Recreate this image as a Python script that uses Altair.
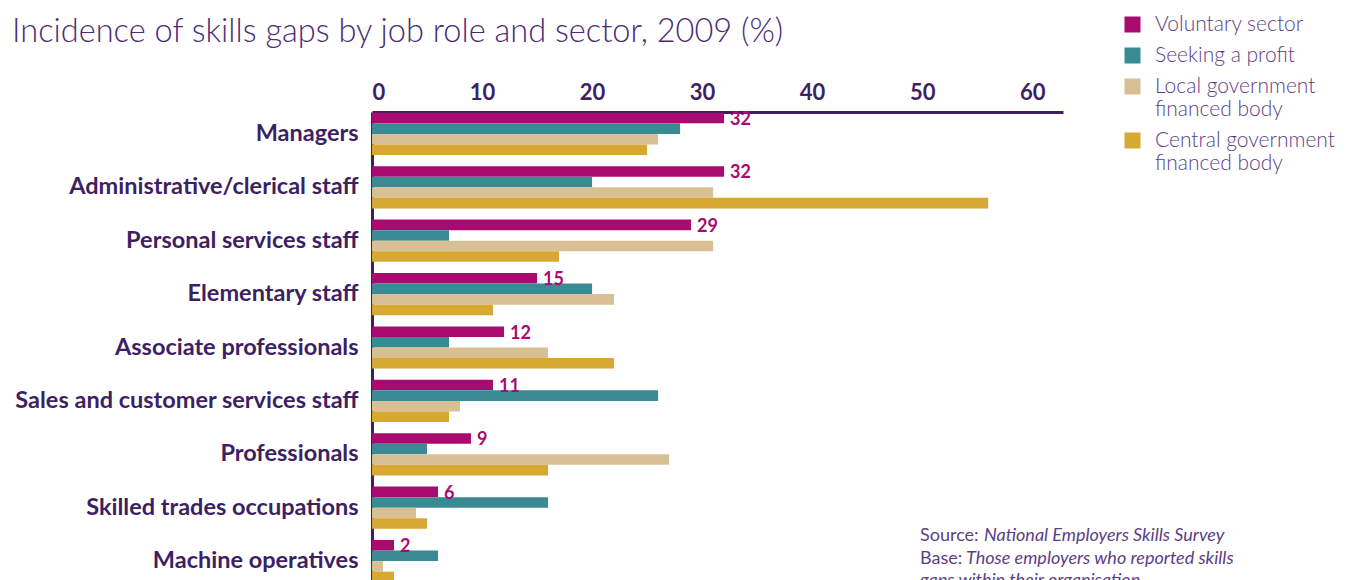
import altair as alt
import pandas as pd

categories = [
    "Managers",
    "Administrative/clerical staff",
    "Personal services staff",
    "Elementary staff",
    "Associate professionals",
    "Sales and customer services staff",
    "Professionals",
    "Skilled trades occupations",
    "Machine operatives",
]
sectors = [
    "Voluntary sector",
    "Seeking a profit",
    "Local government financed body",
    "Central government financed body",
]
voluntary = [32, 32, 29, 15, 12, 11, 9, 6, 2]
profit = [28, 20, 7, 20, 7, 26, 5, 16, 6]
local_gov = [26, 31, 31, 22, 16, 8, 27, 4, 1]
central_gov = [25, 56, 17, 11, 22, 7, 16, 5, 2]
colors = ["#a80b6f", "#3a8a94", "#d8c094", "#d7a832"]
x_ticks = [0, 10, 20, 30, 40, 50, 60]

title_text = "Incidence of skills gaps by job role and sector, 2009 (%)"
note_source_label = "Source:"
note_source = "National Employers Skills Survey"
note_base_label = "Base:"
note_base_1 = "Those employers who reported skills"
note_base_2 = "gaps within their organisation"

rows = []
for series_name, vals in zip(sectors, [voluntary, profit, local_gov, central_gov]):
    for role, v in zip(categories, vals):
        rows.append({"role": role, "sector": series_name, "value": v})
df = pd.DataFrame(rows)
one = pd.DataFrame({"k": [0]})

DARK = "#3d1f63"
TEXT = "#5b3f86"
FONT = "Lato"

y_enc = alt.Y(
    "role:N",
    sort=categories,
    scale=alt.Scale(range=[0, 471], paddingInner=0.21, paddingOuter=0.015),
    axis=alt.Axis(
        title=None, ticks=False, tickSize=0, labelFont=FONT, labelFontSize=23.5,
        labelFontWeight="bold", labelColor=DARK, labelPadding=14, labelLimit=500,
        domainColor=DARK, domainWidth=3,
    ),
)
yoff_enc = alt.YOffset("sector:N", sort=sectors, scale=alt.Scale(domain=sectors))
x_enc = alt.X(
    "value:Q",
    scale=alt.Scale(domain=[0, 62.8], nice=False),
    axis=alt.Axis(
        orient="top", title=None, values=x_ticks, ticks=False, tickSize=0, grid=False,
        labelFont=FONT, labelFontSize=22, labelFontWeight="bold", labelColor=DARK,
        labelPadding=8, domainColor=DARK, domainWidth=3,
    ),
)

legend_expr = (
    "datum.label == 'Local government financed body' ? ['Local government', 'financed body'] : "
    "datum.label == 'Central government financed body' ? ['Central government', 'financed body'] : datum.label"
)

bars = alt.Chart(df).mark_bar().encode(
    y=y_enc,
    yOffset=yoff_enc,
    x=x_enc,
    color=alt.Color(
        "sector:N",
        sort=sectors,
        scale=alt.Scale(domain=sectors, range=colors),
        legend=alt.Legend(
            title=None, orient="none", legendX=750, legendY=-98,
            symbolType="square", symbolSize=256, symbolStrokeWidth=0,
            labelFont=FONT, labelFontSize=21, labelFontWeight=300, labelColor=TEXT,
            labelLimit=400, labelExpr=legend_expr, rowPadding=9, labelOffset=12,
        ),
    ),
)

labels = alt.Chart(df).transform_filter(
    alt.datum.sector == "Voluntary sector"
).mark_text(
    align="left", baseline="middle", dx=6, dy=2, font=FONT, fontSize=18,
    fontWeight="bold", color="#a80b6f",
).encode(y=alt.Y("role:N", sort=categories), yOffset=yoff_enc, x="value:Q", text="value:Q")

title = alt.Chart(one).mark_text(
    text=title_text, font=FONT, fontSize=32.6, fontWeight=300, color="#4a2c74",
    align="left", baseline="alphabetic",
).encode(x=alt.value(-360), y=alt.value(-70))

note_font = dict(font=FONT, fontSize=18, color=TEXT, align="left", baseline="middle")
n1 = alt.Chart(one).mark_text(text=note_source_label, **note_font).encode(x=alt.value(548), y=alt.value(424))
n2 = alt.Chart(one).mark_text(text=note_source, fontStyle="italic", **note_font).encode(x=alt.value(612), y=alt.value(424))
n3 = alt.Chart(one).mark_text(text=note_base_label, **note_font).encode(x=alt.value(548), y=alt.value(447))
n4 = alt.Chart(one).mark_text(text=note_base_1, fontStyle="italic", **note_font).encode(x=alt.value(594), y=alt.value(447))
n5 = alt.Chart(one).mark_text(text=note_base_2, fontStyle="italic", **note_font).encode(x=alt.value(548), y=alt.value(469))

chart = alt.layer(bars, labels, title, n1, n2, n3, n4, n5).properties(
    width=691,
    height=468,
    autosize=alt.AutoSizeParams(type="none"),
    padding={"left": 364, "top": 104, "right": 275, "bottom": 0},
).configure_view(stroke=None)

chart.save("out.html", embed_options={"renderer": "svg", "actions": False})
